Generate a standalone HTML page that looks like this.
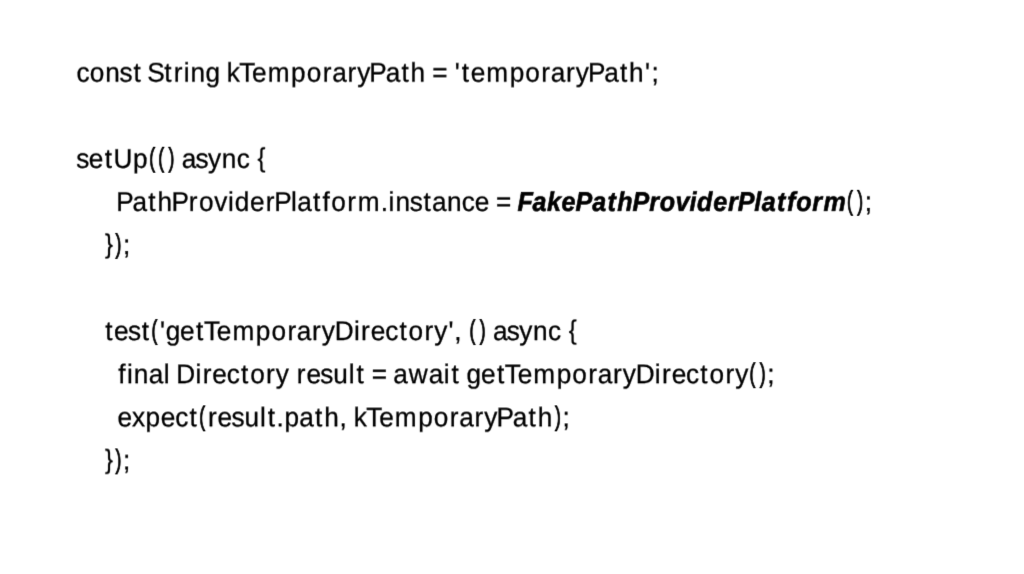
<!DOCTYPE html>
<html lang="en">
<head>
<meta charset="utf-8">
<title>Slide</title>
<style>
html,body{margin:0;padding:0;background:#fff;}
body{width:1024px;height:574px;overflow:hidden;}
svg{display:block;width:1024px;height:574px;}
text{font-family:"Liberation Sans",sans-serif;font-size:27.0px;fill:#000;stroke:#000;stroke-width:0.3px;white-space:pre;font-kerning:none;text-rendering:geometricPrecision;}
.b{font-weight:bold;font-style:italic;stroke-width:0.6px;}
.p{stroke-width:1.0px;}
.q{stroke-width:0.3px;}
</style>
</head>
<body>
<svg width="1024" height="574" viewBox="0 0 1024 574">
<defs>
<filter id="f0" x="0" y="52" width="1024" height="45" filterUnits="userSpaceOnUse"><feConvolveMatrix order="3" kernelMatrix="0.0426 0.3148 0.0426 0.0639 0.4722 0.0639 0.0000 0.0000 0.0000" edgeMode="none" preserveAlpha="false"/></filter>
<filter id="f1" x="0" y="138" width="1024" height="45" filterUnits="userSpaceOnUse"><feConvolveMatrix order="3" kernelMatrix="0.0256 0.1894 0.0256 0.0787 0.5813 0.0787 0.0022 0.0163 0.0022" edgeMode="none" preserveAlpha="false"/></filter>
<filter id="f2" x="0" y="181" width="1024" height="45" filterUnits="userSpaceOnUse"><feConvolveMatrix order="3" kernelMatrix="0.0205 0.1517 0.0205 0.0814 0.6016 0.0814 0.0046 0.0336 0.0046" edgeMode="none" preserveAlpha="false"/></filter>
<filter id="f3" x="0" y="224" width="1024" height="45" filterUnits="userSpaceOnUse"><feConvolveMatrix order="3" kernelMatrix="0.0141 0.1045 0.0141 0.0836 0.6174 0.0836 0.0088 0.0651 0.0088" edgeMode="none" preserveAlpha="false"/></filter>
<filter id="f4" x="0" y="310" width="1024" height="45" filterUnits="userSpaceOnUse"><feConvolveMatrix order="3" kernelMatrix="0.0088 0.0651 0.0088 0.0836 0.6174 0.0836 0.0141 0.1045 0.0141" edgeMode="none" preserveAlpha="false"/></filter>
<filter id="f5" x="0" y="353" width="1024" height="45" filterUnits="userSpaceOnUse"><feConvolveMatrix order="3" kernelMatrix="0.0028 0.0209 0.0028 0.0796 0.5879 0.0796 0.0241 0.1783 0.0241" edgeMode="none" preserveAlpha="false"/></filter>
<filter id="f6" x="0" y="396" width="1024" height="45" filterUnits="userSpaceOnUse"><feConvolveMatrix order="3" kernelMatrix="0.0000 0.0000 0.0000 0.0692 0.5115 0.0692 0.0373 0.2754 0.0373" edgeMode="none" preserveAlpha="false"/></filter>
<filter id="f7" x="0" y="439" width="1024" height="45" filterUnits="userSpaceOnUse"><feConvolveMatrix order="3" kernelMatrix="0.0000 0.0000 0.0000 0.0639 0.4722 0.0639 0.0426 0.3148 0.0426" edgeMode="none" preserveAlpha="false"/></filter>
</defs>
<rect width="1024" height="574" fill="#fff"/>
<g filter="url(#f0)"><text transform="scale(0.97,1)" y="82" x="78.9 92.61 108.45 123.26 137.61 146.63 151.89 169.32 179.08 189.44 196.5 211.79 226.24 233.69 246.65 259.89 276.06 300.12 316.26 332.71 342.41 358.13 368.18 380.81 397.59 413.84 423.28 438.56 445.54 460.78 468.81 476.17 485.2 501.36 525.42 541.56 558.01 567.71 583.43 593.48 606.11 622.89 639.14 648.58 664.96 671.6">const String kTemporaryPath = 'temporaryPath';</text></g>
<g filter="url(#f1)"><text transform="scale(0.97,1)" y="168" dy="0 0 0 0 0 -1 0 0 1 0 0 0 0 0 0 -1" x="78.61 91.49 108.03 117.03 137.18 153.86 163.16 173.7 180.36 187.42 201.53 214.48 228.73 244.03 256.99 265.56">setUp<tspan class="p" textLength="18.08" lengthAdjust="spacingAndGlyphs">(()</tspan> async <tspan class="q" textLength="8.18" lengthAdjust="spacingAndGlyphs">{</tspan></text></g>
<g filter="url(#f2)"><text transform="scale(0.97,1)" y="211" dy="0 0 0 0 0 0 0 0 0 0 0 0 0 0 0 0 0 0 0 0 0 0 0 0 0 0 0 0 0 0 0 0 0 0 0 0 0 0 0 0 0 0 0 0 0 0 0 0 0 0 0 0 0 0 0 0 -1 0 1" x="119.91 136.69 152.94 162.38 176.87 194.67 205.1 220.88 235.08 242.14 257.84 273.85 282.63 300.08 306.44 322.69 332.51 341.52 357.97 368.84 392.46 400.59 407.66 422.47 436.61 445.34 460.75 476.06 489.43 504.3 511.28 526.52 533.6 548.93 563.87 578.96 593.41 610.59 626.38 636.35 652.03 669.23 680.07 696.29 710.93 718.63 735.3 750.62 760.64 777.62 785.37 801.16 811.34 820.85 837.42 848.87 873.25 883.79 891.4">PathProviderPlatform.instance = <tspan class="b" textLength="325.12" lengthAdjust="spacingAndGlyphs">FakePathProviderPlatform</tspan><tspan class="p" textLength="12.05" lengthAdjust="spacingAndGlyphs">()</tspan>;</text></g>
<g filter="url(#f3)"><text transform="scale(0.97,1)" y="254" dy="-1 0 1" x="108.3 119.1 126.71"><tspan class="q" textLength="8.18" lengthAdjust="spacingAndGlyphs">}</tspan><tspan class="p" textLength="6.03" lengthAdjust="spacingAndGlyphs">)</tspan>;</text></g>
<g filter="url(#f4)"><text transform="scale(0.97,1)" y="340" dy="0 0 0 0 -1 1 0 0 0 0 0 0 0 0 0 0 0 0 0 0 0 0 0 0 0 0 0 0 0 0 -1 0 1 0 0 0 0 0 0 -1" x="108.5 117.52 131.92 146.06 156.07 165.07 170.75 185.62 202.16 210.28 223.53 239.69 263.75 279.89 296.34 306.04 321.76 331.81 345.2 364.9 372.27 382.26 397.15 411.78 421.25 437.71 447.76 462.27 468.33 475.63 483.97 494.51 501.17 508.23 522.34 535.29 549.54 564.84 577.8 586.37">test<tspan class="p" textLength="6.03" lengthAdjust="spacingAndGlyphs">(</tspan>'getTemporaryDirectory', <tspan class="p" textLength="12.05" lengthAdjust="spacingAndGlyphs">()</tspan> async <tspan class="q" textLength="8.18" lengthAdjust="spacingAndGlyphs">{</tspan></text></g>
<g filter="url(#f5)"><text transform="scale(0.97,1)" y="383" dy="0 0 0 0 0 0 0 0 0 0 0 0 0 0 0 0 0 0 0 0 0 0 0 0 0 0 0 0 0 0 0 0 0 0 0 0 0 0 0 0 0 0 0 0 0 0 0 0 0 0 0 0 -1 0 1" x="121.91 130.85 137.91 153.32 168.69 174.93 181.83 201.53 208.91 218.89 233.78 248.41 257.88 274.34 284.39 297.81 305.89 315.87 330.27 343.57 359.65 367.56 376.16 383.14 398.38 405.45 421.53 442.09 457.46 465.37 473.98 480.91 495.78 512.32 520.44 533.69 549.85 573.91 590.05 606.51 616.2 631.92 641.97 655.36 675.06 682.43 692.42 707.31 721.94 731.41 747.87 757.92 772.74 783.28 790.89">final Directory result = await getTemporaryDirectory<tspan class="p" textLength="12.05" lengthAdjust="spacingAndGlyphs">()</tspan>;</text></g>
<g filter="url(#f6)"><text transform="scale(0.97,1)" y="426" dy="0 0 0 0 0 0 -1 1 0 0 0 0 0 0 0 0 0 0 0 0 0 0 0 0 0 0 0 0 0 0 0 0 0 0 -1 1" x="121.11 136.16 150.1 165.8 180.69 195.32 205.33 214.37 224.35 238.76 252.05 268.13 276.04 285.04 293.21 308.62 324.86 334.3 349.95 357.26 364.71 377.67 390.91 407.08 431.13 447.28 463.73 473.43 489.14 499.2 511.83 528.61 544.86 554.3 572.22 579.83">expect<tspan class="p" textLength="6.03" lengthAdjust="spacingAndGlyphs">(</tspan>result.path, kTemporaryPath<tspan class="p" textLength="6.03" lengthAdjust="spacingAndGlyphs">)</tspan>;</text></g>
<g filter="url(#f7)"><text transform="scale(0.97,1)" y="469" dy="-1 0 1" x="108.3 119.1 126.71"><tspan class="q" textLength="8.18" lengthAdjust="spacingAndGlyphs">}</tspan><tspan class="p" textLength="6.03" lengthAdjust="spacingAndGlyphs">)</tspan>;</text></g>
</svg>
</body>
</html>
